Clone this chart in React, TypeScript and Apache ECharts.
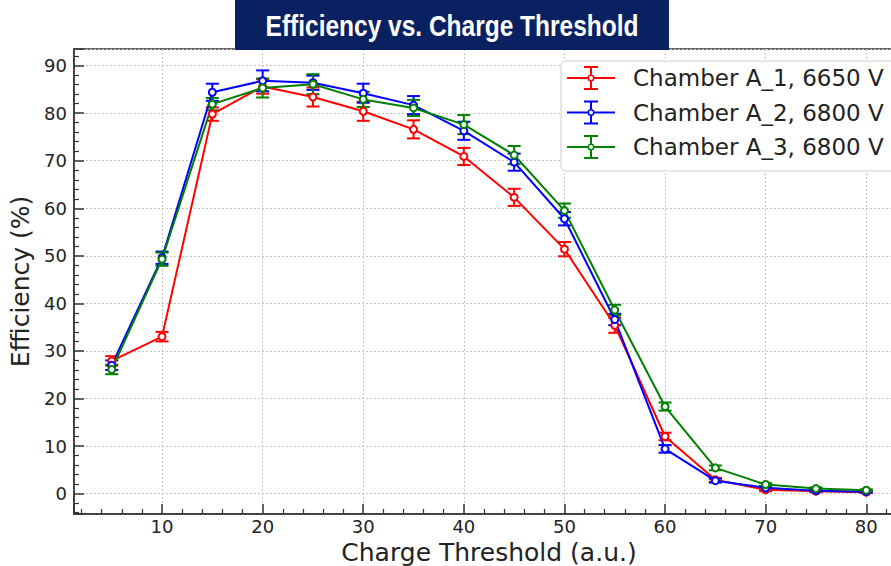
import React, { useEffect, useRef } from "react";
import * as echarts from "echarts";

const thresholds = [5, 10, 15, 20, 25, 30, 35, 40, 45, 50, 55, 60, 65, 70, 75, 80];

const seriesNames = ["Chamber A_1, 6650 V", "Chamber A_2, 6800 V", "Chamber A_3, 6800 V"];
const seriesColors = ["#ff0000", "#0000ff", "#008000"];

const effA1 = [27.9, 33.0, 79.8, 85.6, 83.4, 80.4, 76.6, 70.9, 62.3, 51.4, 35.4, 12.0, 2.9, 0.8, 0.5, 0.3];
const errA1 = [1.0, 1.0, 1.4, 1.5, 2.0, 2.0, 1.9, 1.8, 1.8, 1.5, 1.6, 0.8, 0.4, 0.3, 0.2, 0.2];

const effA2 = [27.0, 49.6, 84.4, 86.8, 86.4, 84.2, 81.7, 76.3, 69.7, 57.8, 36.6, 9.4, 2.7, 1.2, 0.6, 0.4];
const errA2 = [1.0, 1.3, 1.8, 2.2, 1.5, 2.0, 1.9, 1.9, 1.8, 1.4, 1.2, 0.8, 0.4, 0.3, 0.2, 0.2];

const effA3 = [26.1, 49.3, 81.9, 85.3, 86.1, 82.9, 81.1, 77.6, 71.2, 59.5, 38.6, 18.3, 5.4, 1.9, 1.05, 0.7];
const errA3 = [1.0, 1.4, 1.3, 2.0, 2.1, 1.6, 1.7, 2.0, 1.9, 1.5, 1.1, 0.85, 0.5, 0.3, 0.25, 0.2];

const titleText = "Efficiency vs. Charge Threshold";
const xName = "Charge Threshold (a.u.)";
const yName = "Efficiency (%)";

const legendIcon =
  "path://M0,11H20.5V13H0Z M27.5,11H48V13H27.5Z M17,0H31V2H17Z M17,22H31V24H17Z M23,2H25V8.5H23Z M23,15.5H25V22H23Z " +
  "M20.5,12A3.5,3.5 0 1 0 27.5,12A3.5,3.5 0 1 0 20.5,12Z M22,12A2,2 0 1 1 26,12A2,2 0 1 1 22,12Z";

const FONT = "DejaVu Sans";

export default function App() {
  const ref = useRef<HTMLDivElement>(null);

  useEffect(() => {
    if (!ref.current) return;
    const chart = echarts.init(ref.current, undefined, { renderer: "svg" });

    const effs = [effA1, effA2, effA3];
    const errs = [errA1, errA2, errA3];

    const series: any[] = [];
    effs.forEach((eff, i) => {
      const color = seriesColors[i];
      const errData = thresholds.map((x, j) => [x, eff[j] - errs[i][j], eff[j] + errs[i][j]]);
      series.push({
        type: "custom",
        name: seriesNames[i] + " err",
        data: errData,
        encode: { x: 0, y: [1, 2] },
        itemStyle: { color },
        renderItem: (params: any, api: any) => {
          const x = api.value(0);
          const lo = api.coord([x, api.value(1)]);
          const hi = api.coord([x, api.value(2)]);
          const hw = 6.5;
          const st = { stroke: color, lineWidth: 2 };
          return {
            type: "group",
            children: [
              { type: "line", shape: { x1: lo[0], y1: lo[1], x2: hi[0], y2: hi[1] }, style: st },
              { type: "line", shape: { x1: lo[0] - hw, y1: lo[1], x2: lo[0] + hw, y2: lo[1] }, style: st },
              { type: "line", shape: { x1: hi[0] - hw, y1: hi[1], x2: hi[0] + hw, y2: hi[1] }, style: st },
            ],
          };
        },
      });
      series.push({
        type: "line",
        name: seriesNames[i],
        data: thresholds.map((x, j) => [x, eff[j]]),
        symbol: "emptyCircle",
        symbolSize: 7,
        showSymbol: true,
        lineStyle: { color, width: 2 },
        itemStyle: { color, borderWidth: 1.5 },
      });
    });

    chart.setOption({
      animation: false,
      backgroundColor: "#ffffff",
      grid: {
        left: 74,
        top: 49,
        right: 0,
        bottom: 52,
        show: true,
        borderColor: "#333",
        borderWidth: 1.5,
        backgroundColor: "transparent",
        containLabel: false,
        outerBoundsMode: "none",
      },
      legend: {
        data: seriesNames.map((n) => ({ name: n, icon: legendIcon })),
        orient: "vertical",
        left: 561,
        top: 61,
        itemWidth: 48,
        itemHeight: 24,
        itemGap: 10.5,
        padding: [5, 12, 12, 6],
        backgroundColor: "#ffffff",
        borderColor: "#cccccc",
        borderWidth: 1,
        borderRadius: 5,
        itemStyle: { borderWidth: 0 },
        textStyle: {
          fontFamily: FONT,
          fontSize: 23,
          color: "#222",
          lineHeight: 24,
          padding: [0, 0, 0, 13],
        },
        selectedMode: false,
      },
      xAxis: {
        type: "value",
        min: 1.25,
        max: 83.75,
        splitNumber: 8,
        name: xName,
        nameLocation: "middle",
        nameGap: 23,
        nameTextStyle: { fontFamily: FONT, fontSize: 25, color: "#222" },
        axisLine: { show: true, onZero: false, lineStyle: { color: "#333", width: 1.5 } },
        axisTick: { show: true, inside: true, length: 10, lineStyle: { color: "#333", width: 1.5 } },
        minorTick: { show: true, splitNumber: 5, length: 5, lineStyle: { color: "#333", width: 1.2 } },
        axisLabel: {
          fontFamily: FONT,
          fontSize: 18,
          color: "#222",
          margin: 3,
          showMinLabel: false,
          showMaxLabel: false,
        },
        splitLine: { show: true, lineStyle: { color: "#c4c4c4", type: [2, 2], width: 1 } },
      },
      yAxis: {
        type: "value",
        min: -4.3,
        max: 93.5,
        splitNumber: 10,
        name: yName,
        nameLocation: "middle",
        nameGap: 34,
        nameTextStyle: { fontFamily: FONT, fontSize: 25, color: "#222" },
        axisLine: { show: true, onZero: false, lineStyle: { color: "#333", width: 1.5 } },
        axisTick: { show: true, inside: true, length: 10, lineStyle: { color: "#333", width: 1.5 } },
        minorTick: { show: true, splitNumber: 5, length: 5, lineStyle: { color: "#333", width: 1.2 } },
        axisLabel: {
          fontFamily: FONT,
          fontSize: 18,
          color: "#222",
          margin: 7,
          showMinLabel: false,
          showMaxLabel: false,
        },
        splitLine: { show: true, lineStyle: { color: "#c4c4c4", type: [2, 2], width: 1 } },
      },
      graphic: [
        {
          type: "rect",
          left: 235,
          top: 0,
          z: 100,
          shape: { width: 434, height: 50 },
          style: { fill: "#0a2161" },
        },
        {
          type: "text",
          x: 452,
          y: 26,
          z: 101,
          scaleX: 0.845,
          style: {
            text: titleText,
            fill: "#ffffff",
            fontFamily: "Liberation Sans",
            fontWeight: "bold",
            fontSize: 29,
            align: "center",
            verticalAlign: "middle",
          },
        },
      ],
      series,
    });

    return () => chart.dispose();
  }, []);

  return (
    <div
      style={{
        position: "fixed",
        left: 0,
        top: 0,
        width: 891,
        height: 566,
        overflow: "hidden",
        background: "#fff",
      }}
    >
      <div ref={ref} style={{ width: 904, height: 566 }} />
    </div>
  );
}
